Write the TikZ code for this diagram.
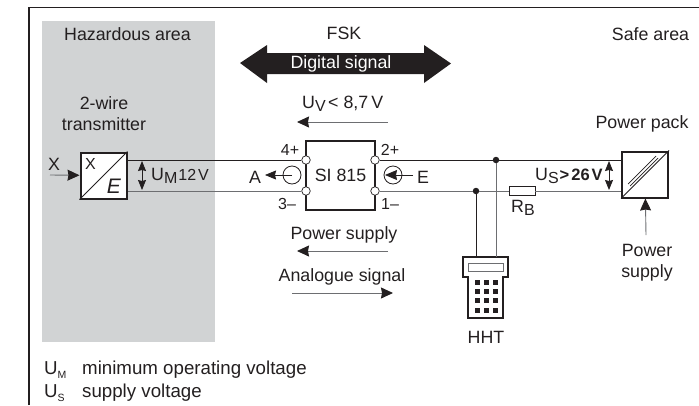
\documentclass[tikz,border=0pt]{standalone}
\usepackage{fontspec}
\setmainfont{Liberation Sans}
\usepackage{xcolor}
\usetikzlibrary{calc,arrows.meta}
\definecolor{ink}{HTML}{231F20}
\definecolor{hazard}{HTML}{D1D3D4}
\definecolor{wiregray}{HTML}{6D6E71}
\newcommand{\lowsub}[1]{\raisebox{-3.5pt}{\fontsize{16}{16}\selectfont #1}}
\newcommand{\legsub}[1]{\raisebox{-4pt}{\fontsize{10.5}{10.5}\selectfont #1}}
\tikzset{
  line/.style={draw=ink, line width=0.8pt},
  grayline/.style={draw=wiregray, line width=1pt},
  thinarrow/.style={draw=wiregray, line width=0.9pt, -{Stealth[length=12pt,width=11pt,inset=1pt,ink,fill=ink]}},
  bothway/.style={draw=ink, line width=0.9pt, {Stealth[length=10pt,width=8pt,inset=1pt]}-{Stealth[length=10pt,width=8pt,inset=1pt]}},
  heavybox/.style={draw=ink, line width=2pt, fill=white, minimum width=46pt, minimum height=46pt, inner sep=0pt},
  terminal/.style={circle, draw=ink, fill=white, line width=0.7pt, inner sep=0pt, minimum size=8.5pt},
  source/.style={circle, draw=ink, line width=0.8pt, inner sep=0pt, minimum size=18pt},
  junction/.style={circle, fill=ink, inner sep=0pt, minimum size=6.5pt},
  key/.style={fill=ink, inner sep=0pt, minimum size=5pt},
  lbl/.style={text=ink, font=\fontsize{17.8}{20}\selectfont, inner sep=0pt},
  smlbl/.style={text=ink, font=\fontsize{16}{18}\selectfont, inner sep=0pt},
  leglbl/.style={text=ink, font=\fontsize{18.7}{20}\selectfont, inner sep=0pt, anchor=base west}
}
\begin{document}
\begin{tikzpicture}[x=1pt,y=-1pt]
  \useasboundingbox (0,0) rectangle (699,405);

  \fill[hazard] (42,21) rectangle (215,342);
  \draw[ink, line width=1.2pt] (29,405) -- (29,7.5) -- (699,7.5);

  \coordinate (XIn) at (50,175);
  \coordinate (SupplyIn) at (646,235);
  \coordinate (AEnd) at (265,175);
  \coordinate (EStart) at (413,175);

  \node[heavybox] (TX) at (103.5,175.5) {};
  \node[heavybox, minimum width=69pt, minimum height=69pt] (SI) at (340.5,175.5) {};
  \node[heavybox] (PP) at (645,174.5) {};
  \node[terminal] (T4) at (306,160) {};
  \node[terminal] (T3) at (306,191) {};
  \node[terminal] (T2) at (375,160) {};
  \node[terminal] (T1) at (375,191) {};
  \node[junction] (JA) at (496,160) {};
  \node[junction] (JB) at (476,191) {};
  \node[draw=ink, line width=0.9pt, fill=white, minimum width=26pt, minimum height=9pt, inner sep=0pt] (RB) at (522,191) {};
  \node[source] (SA) at (292,175) {};
  \node[source] (SE) at (393,175) {};

  \draw[line] (T4) -- (TX.east |- T4);
  \draw[grayline] (T3) -- (TX.east |- T3);
  \draw[line] (T2) -- (JA) -- (PP.west |- JA);
  \draw[grayline] (T1) -- (JB) -- (RB);
  \draw[grayline] (RB) -- (PP.west |- RB);
  \draw[line] (TX.south west) -- (TX.north east);
  \draw[line] (PP.south west) -- (PP.north east);
  \draw[line, line width=0.7pt] (628,184) -- (656,156);
  \draw[line, line width=0.7pt] (630,186) -- (658,158);

  \draw[thinarrow] (XIn) -- (TX);
  \draw[thinarrow] (SupplyIn) -- (PP);
  \draw[line, -{Stealth[length=11pt,width=9pt,inset=1pt]}] (SA.center) -- (AEnd);
  \draw[line, -{Stealth[length=12pt,width=10pt,inset=1pt]}] (EStart) -- (385,175);
  \draw[bothway] (142,161) -- (142,190);
  \draw[bothway] (609,161) -- (609,190);
  \draw[thinarrow] (388,122) -- (297,122);
  \draw[thinarrow] (388,251) -- (297,251);
  \draw[thinarrow] (292,293) -- (393,293);

  \fill[ink] (240,63) -- (267,45) -- (267,53) -- (424,53) -- (424,45) -- (451,63.5) -- (424,83) -- (424,74) -- (267,74) -- (267,83) -- cycle;
  \node[lbl, text=white] (Digital) at (341,63.5) {Digital signal};

  \draw[line, line width=2pt, fill=white, line join=miter] (463,257) -- (508,257) -- (508,277) -- (503,277) -- (503,318) -- (468,318) -- (468,277) -- (463,277) -- cycle;
  \draw[grayline, fill=white] (468,263) rectangle (503,271);
  \draw[line] (JB) -- (JB |- 0,257);
  \draw[grayline] (JA) -- (JA |- 0,257);
  \foreach \row in {282,291,300,310} {
    \foreach \col in {477,486,495} {
      \node[key] at (\col,\row) {};
    }
  }

  \node[lbl] (Haz) at (127.5,34) {Hazardous area};
  \node[lbl] (FSK) at (344,33.5) {FSK};
  \node[lbl] (Safe) at (650.5,34.5) {Safe area};
  \node[lbl] (Wire) at (104,103.5) {2-wire};
  \node[lbl] (Trans) at (104,124.5) {transmitter};
  \node[lbl, anchor=west] (UV) at (302,104) {U\lowsub{V}\kern2.5pt< 8,7\kern3pt V};
  \node[lbl] (Pack) at (642,123.5) {Power pack};
  \node[lbl] (PS) at (344,234.5) {Power supply};
  \node[lbl] (AS) at (342,276.5) {Analogue signal};
  \node[lbl] (SIlbl) at (340.5,175.5) {SI 815};
  \node[lbl] (XLbl) at (54,164.5) {X};
  \node[smlbl] (XBox) at (90.5,163.5) {X};
  \node[lbl, font=\fontsize{21}{24}\selectfont] (EBox) at (114,186) {\itshape E};
  \node[lbl, anchor=west] (UM) at (151,176) {U\lowsub{M}\kern1pt{\fontsize{16}{18}\selectfont 12\kern2pt V}};
  \node[lbl] (ALbl) at (255,177) {A};
  \node[lbl] (ELbl) at (423,177) {E};
  \node[smlbl] (L4) at (290,150) {4+};
  \node[smlbl] (L3) at (287,204) {3–};
  \node[smlbl] (L2) at (390,150) {2+};
  \node[smlbl] (L1) at (390,204) {1–};
  \node[lbl, anchor=west] (US) at (535,176) {U\lowsub{S}\kern1pt{\fontsize{16.5}{18}\selectfont\bfseries >\kern2pt 26\kern2pt V}};
  \node[lbl] (RBlbl) at (523,208) {R\lowsub{B}};
  \node[lbl] (PWR) at (647,250) {Power};
  \node[lbl] (SUP) at (647,273) {supply};
  \node[lbl] (HHT) at (486,337) {HHT};
  \node[leglbl] (LegM) at (44,374) {U\legsub{M}};
  \node[leglbl] (LegMt) at (82,374) {minimum operating voltage};
  \node[leglbl] (LegS) at (44,397.5) {U\legsub{S}};
  \node[leglbl] (LegSt) at (82,397.5) {supply voltage};
\end{tikzpicture}
\end{document}
